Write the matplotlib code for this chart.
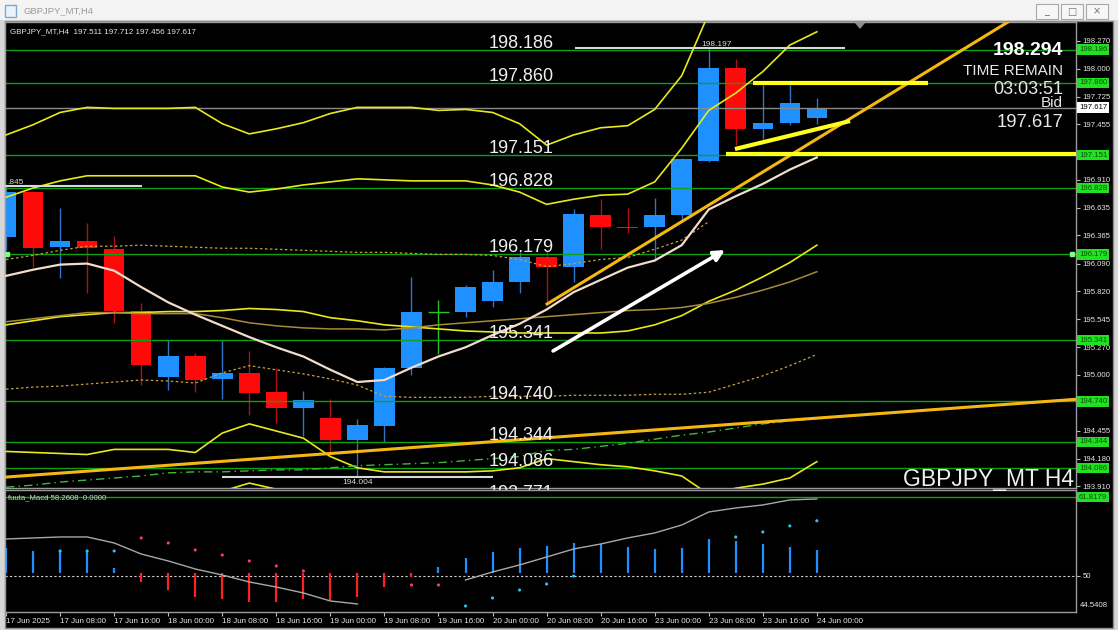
import matplotlib
matplotlib.use("Agg")
import matplotlib.pyplot as plt
from matplotlib.patches import Rectangle, Polygon
from matplotlib.transforms import blended_transform_factory
import numpy as np

plt.rcParams['font.family'] = ['Liberation Sans', 'DejaVu Sans']

# ---------------- data ----------------
tick_labels = ['17 Jun 2025', '17 Jun 08:00', '17 Jun 16:00', '18 Jun 00:00',
               '18 Jun 08:00', '18 Jun 16:00', '19 Jun 00:00', '19 Jun 08:00',
               '19 Jun 16:00', '20 Jun 00:00', '20 Jun 08:00', '20 Jun 16:00',
               '23 Jun 00:00', '23 Jun 08:00', '23 Jun 16:00', '24 Jun 00:00']

opens = [196.35, 196.79, 196.25, 196.31, 196.23, 195.63, 194.98, 195.18, 194.96, 195.02,
         194.83, 194.68, 194.58, 194.36, 194.50, 195.07, 195.62, 195.62, 195.72, 195.91,
         196.15, 196.06, 196.57, 196.45, 196.45, 196.57, 197.09, 198.01, 197.41, 197.47, 197.511]
highs = [196.845, 196.80, 196.63, 196.49, 196.36, 195.70, 195.34, 195.21, 195.34, 195.23,
         195.07, 194.84, 194.76, 194.57, 195.08, 195.96, 195.73, 195.88, 196.03, 196.20,
         196.21, 196.62, 196.72, 196.63, 196.73, 197.12, 198.197, 198.09, 197.84, 197.84, 197.712]
lows = [196.22, 196.06, 195.95, 195.80, 195.51, 194.90, 194.85, 194.83, 194.76, 194.61,
        194.53, 194.40, 194.23, 194.004, 194.34, 195.00, 195.20, 195.57, 195.66, 195.80,
        195.69, 195.91, 196.23, 196.39, 196.12, 196.52, 197.08, 197.25, 197.31, 197.45, 197.456]
closes = [196.79, 196.24, 196.31, 196.24, 195.63, 195.10, 195.18, 194.95, 195.02, 194.82,
          194.68, 194.75, 194.36, 194.51, 195.07, 195.62, 195.62, 195.86, 195.91, 196.15,
          196.06, 196.58, 196.45, 196.44, 196.57, 197.11, 198.01, 197.41, 197.47, 197.66, 197.617]

# indicator lines (price per bar)
band_outer_up = [197.35, 197.45, 197.57, 197.62, 197.61, 197.61, 197.61, 197.62, 197.46, 197.36,
                 197.41, 197.47, 197.56, 197.62, 197.62, 197.62, 197.59, 197.60, 197.57, 197.46,
                 197.25, 197.35, 197.42, 197.44, 197.60, 197.93, 198.54]
band_inner_up = [196.74, 196.83, 196.90, 196.95, 196.95, 196.95, 196.95, 196.95, 196.84, 196.79,
                 196.82, 196.86, 196.89, 196.92, 196.91, 196.90, 196.90, 196.90, 196.86, 196.79,
                 196.67, 196.72, 196.76, 196.77, 196.89, 197.22, 197.59, 197.76, 197.97, 198.23, 198.36]
mid_dotted_up = [196.13, 196.17, 196.22, 196.26, 196.26, 196.27, 196.26, 196.25, 196.24, 196.24,
                 196.23, 196.22, 196.21, 196.20, 196.20, 196.19, 196.18, 196.18, 196.17, 196.13,
                 196.06, 196.09, 196.13, 196.15, 196.23, 196.32, 196.50]
band_inner_lo = [195.49, 195.53, 195.57, 195.59, 195.61, 195.61, 195.62, 195.62, 195.63, 195.65,
                 195.64, 195.62, 195.56, 195.53, 195.49, 195.47, 195.45, 195.43, 195.42, 195.41,
                 195.41, 195.41, 195.41, 195.43, 195.49, 195.58, 195.72, 195.83, 195.96, 196.10, 196.27]
ma_slow = [195.52, 195.55, 195.58, 195.61, 195.61, 195.60, 195.60, 195.60, 195.56, 195.51,
           195.48, 195.46, 195.45, 195.45, 195.44, 195.46, 195.49, 195.51, 195.53, 195.55,
           195.57, 195.59, 195.61, 195.63, 195.64, 195.66, 195.70, 195.76, 195.83, 195.91, 196.01]
ma_fast = [195.97, 196.03, 196.08, 196.09, 196.02, 195.86, 195.71, 195.59, 195.48, 195.37,
           195.27, 195.18, 195.05, 194.93, 194.95, 195.07, 195.18, 195.27, 195.39, 195.50,
           195.64, 195.81, 195.93, 196.05, 196.12, 196.27, 196.62, 196.75, 196.87, 197.01, 197.13]
mid_dotted_lo = [194.86, 194.88, 194.89, 194.91, 194.93, 194.95, 194.94, 194.92, 195.02, 195.09,
                 195.05, 195.01, 194.96, 194.90, 194.79, 194.78, 194.78, 194.78, 194.79, 194.79,
                 194.79, 194.80, 194.80, 194.80, 194.81, 194.81, 194.83, 194.91, 194.99, 195.09, 195.20]
band_outer_lo = [194.25, 194.24, 194.23, 194.22, 194.27, 194.27, 194.27, 194.24, 194.43, 194.52,
                 194.45, 194.38, 194.20, 194.09, 194.05, 194.05, 194.05, 194.05, 194.06, 194.09,
                 194.18, 194.15, 194.12, 194.10, 194.06, 194.01, 193.83, 193.89, 193.93, 193.99, 194.15]
band_far_lo_bars = [7, 8, 9, 10, 11]
band_far_lo = [193.75, 193.86, 193.94, 193.88, 193.78]
ma_long = [193.90, 193.92, 193.95, 193.97, 193.99, 194.01, 194.04, 194.05, 194.05, 194.06,
           194.07, 194.07, 194.09, 194.11, 194.12, 194.13, 194.14, 194.16, 194.18, 194.20,
           194.26, 194.27, 194.30, 194.33, 194.37, 194.41, 194.44, 194.48, 194.52, 194.55, 194.57]

level_prices = [198.186, 197.860, 197.151, 196.828, 196.179, 195.341, 194.740, 194.344, 194.086]
level_text_prices = level_prices + [193.771]
bid_price = 197.617
axis_ticks = [198.270, 198.000, 197.725, 197.455, 197.185, 196.910, 196.635, 196.365, 196.090,
              195.820, 195.545, 195.270, 195.000, 194.730, 194.455, 194.180, 193.910]
hidden_ticks = [197.185, 194.730]   # covered by the level boxes on the price scale

trend1_bars, trend1_prices = [0.04, 38.25], [194.00, 194.735]
trend2_bars, trend2_prices = [20.02, 36.77], [195.694, 198.407]
yl_h1_bars, yl_h1_prices = [27.64, 34.11], [197.855, 197.855]
yl_h2_bars, yl_h2_prices = [26.64, 40.0], [197.16, 197.16]
yl_d_bars, yl_d_prices = [26.97, 31.23], [197.212, 197.486]
arrow_bars, arrow_prices = [20.24, 26.6], [195.234, 196.223]
hl_start = [-0.04, 21.05, 8.0]
hl_end = [5.03, 31.04, 18.0]
hl_price = [196.845, 198.197, 194.004]
hl_texts = ['.845', '198.197', '194.004']

# MACD panel
hist = [54.19, 53.74, 53.74, 53.59, 51.20, 49.10, 47.90, 46.86, 46.56, 46.11,
        46.11, 46.56, 46.41, 46.86, 48.35, 49.85, 51.35, 52.69, 53.59, 54.19,
        54.49, 54.94, 54.79, 54.34, 54.04, 54.19, 55.54, 55.24, 54.79, 54.34, 53.89]
hist_base = 50.5
signal = [55.54, 55.69, 55.84, 55.84, 54.94, 53.29, 52.25, 51.05, 50.15, 49.10,
          48.35, 47.46, 46.26, 45.81, np.nan, np.nan, np.nan, 49.40, 50.60, 51.65,
          52.84, 54.04, 54.79, 55.69, 56.44, 57.63, 59.58, 60.18, 60.63, 61.38, 61.53]
dots = [np.nan, np.nan, 53.74, 53.74, 53.74, 55.69, 54.94, 53.89, 53.14, 52.25,
        51.50, 50.75, np.nan, np.nan, np.nan, 48.65, 48.65, 45.51, 46.71, 47.90,
        48.80, 50.00, np.nan, np.nan, np.nan, np.nan, np.nan, 55.84, 56.59, 57.49, 58.26]
dots_falling = [False, False, False, False, False, True, True, True, True, True,
                True, True, False, False, False, True, True, False, False, False,
                False, False, False, False, False, False, False, False, False, False, False]
macd_level = 61.8179
macd_mid = 50

# ---------------- figure ----------------
W, H = 1118, 630
fig = plt.figure(figsize=(W / 100, H / 100), dpi=100, facecolor='#d6d6d6')


def fx(px):
    return px / W


def fy(py):
    return 1 - py / H


# window chrome
fig.patches.append(Rectangle((0, fy(20)), 1, 20 / H, transform=fig.transFigure,
                             facecolor='#f3f3f3', edgecolor='none', zorder=-6))
fig.patches.append(Rectangle((fx(5), fy(628)), fx(1113) - fx(5), 607 / H,
                             transform=fig.transFigure, facecolor='black',
                             edgecolor='#8a8a8a', lw=1, zorder=-5))
fig.patches.append(Rectangle((fx(5), fy(17)), 11 / W, 12 / H, transform=fig.transFigure,
                             facecolor='#eaf2fb', edgecolor='#7fa7d6', lw=1, zorder=-4))
fig.text(fx(23), fy(11), 'GBPJPY_MT,H4', fontsize=6.8, color='#9a9a9a', va='center')
for bx, glyph in zip([1036, 1061, 1086], ['_', '□', '×']):
    fig.patches.append(Rectangle((fx(bx), fy(19)), 22 / W, 15 / H, transform=fig.transFigure,
                                 facecolor='#f7f7f7', edgecolor='#a8a8a8', lw=0.8, zorder=-4))
    fig.text(fx(bx + 11), fy(11.5), glyph, fontsize=7, color='#707070', ha='center', va='center',
             family='DejaVu Sans')

ax = fig.add_axes([fx(5), fy(488), (1076 - 5) / W, (488 - 22) / H], facecolor='black')
ax2 = fig.add_axes([fx(5), fy(612), (1076 - 5) / W, (612 - 490) / H], facecolor='black')

XMIN, XMAX = -0.04, 39.59
for a in (ax, ax2):
    a.set_xlim(XMIN, XMAX)
    for s in a.spines.values():
        s.set_color('#9a9a9a')
        s.set_linewidth(1)
ax.set_ylim(193.892, 198.456)
ax2.set_ylim(44.61, 62.87)

x = np.arange(len(opens))
o = np.array(opens); c = np.array(closes); hi = np.array(highs); lo = np.array(lows)
BLUE, RED, GREEN = '#1e90ff', '#ff0a0a', '#1fc81f'
up = c > o
dn = c < o
flat = ~(up | dn)
body_col = np.where(up, BLUE, np.where(dn, RED, GREEN))
wick_col = np.where(up, '#2f74c8', np.where(dn, '#b01212', GREEN))

# horizontal levels
for p in level_prices:
    ax.axhline(p, color='#10a010', lw=1, zorder=2)
ax.axhline(bid_price, color='#8a8a8a', lw=1, zorder=2)

# candles
ax.vlines(x, lo, hi, colors=wick_col, lw=1, zorder=1.5)
ax.bar(x[~flat], (c - o)[~flat], bottom=o[~flat], width=0.76, color=body_col[~flat],
       zorder=1.6)
ax.hlines(o[flat], x[flat] - 0.38, x[flat] + 0.38, colors=GREEN, lw=1, zorder=1.6)

# indicators
YEL = '#e8e81a'
ax.plot(np.arange(len(band_outer_up)), band_outer_up, color=YEL, lw=1.2, zorder=3)
ax.plot(np.arange(len(band_inner_up)), band_inner_up, color=YEL, lw=1.2, zorder=3)
ax.plot(np.arange(len(mid_dotted_up)), mid_dotted_up, color='#c8a040', lw=0.9,
        ls=(0, (2, 2)), zorder=3)
ax.plot(np.arange(len(band_inner_lo)), band_inner_lo, color=YEL, lw=1.2, zorder=3)
ax.plot(np.arange(len(ma_slow)), ma_slow, color='#a88a38', lw=1.1, zorder=3)
ax.plot(np.arange(len(ma_fast)), ma_fast, color='#f2dccb', lw=1.6, zorder=3)
ax.plot(np.arange(len(mid_dotted_lo)), mid_dotted_lo, color='#c8a040', lw=0.9,
        ls=(0, (2, 2)), zorder=3)
ax.plot(np.arange(len(band_outer_lo)), band_outer_lo, color=YEL, lw=1.2, zorder=3)
ax.plot(band_far_lo_bars, band_far_lo, color=YEL, lw=1.2, zorder=3)
ax.plot(np.arange(len(ma_long)), ma_long, color='#3cb83c', lw=1, ls=(0, (6, 3, 1, 3)), zorder=3)

# trend lines
ORG = '#f5b810'
ax.axline((trend1_bars[0], trend1_prices[0]), (trend1_bars[1], trend1_prices[1]),
          color=ORG, lw=2.2, zorder=4)
slope2 = (trend2_prices[1] - trend2_prices[0]) / (trend2_bars[1] - trend2_bars[0])
ax.plot([trend2_bars[0], XMAX + 5],
        [trend2_prices[0], trend2_prices[0] + slope2 * (XMAX + 5 - trend2_bars[0])],
        color=ORG, lw=2.2, zorder=4)
for bb, pp in ((yl_h1_bars, yl_h1_prices), (yl_h2_bars, yl_h2_prices), (yl_d_bars, yl_d_prices)):
    ax.plot(bb, pp, color='#ffff1a', lw=3, zorder=4, solid_capstyle='butt')

# high / low markers
ax.hlines(hl_price, hl_start, hl_end, colors='#d8d8d8', lw=1.5, zorder=4)
ax.text(0.05, hl_price[0] + 0.025, hl_texts[0], color='#d8d8d8', fontsize=6,
        ha='left', va='baseline', zorder=6)
ax.text(26.3, hl_price[1] + 0.025, hl_texts[1], color='#d8d8d8', fontsize=6,
        ha='center', va='baseline', zorder=6)
ax.text(13.0, hl_price[2] - 0.025, hl_texts[2], color='#d8d8d8', fontsize=6,
        ha='center', va='top', zorder=6)

# arrow
ax.annotate('', xy=(arrow_bars[1], arrow_prices[1]), xytext=(arrow_bars[0], arrow_prices[0]),
            arrowprops=dict(arrowstyle='-|>', color='white', lw=2.6, mutation_scale=16,
                            shrinkA=0, shrinkB=0), zorder=5)

# level texts
for p in level_text_prices:
    ax.text(17.87, p + 0.02, f'{p:.3f}', color='#f0f0f0', fontsize=13, ha='left',
            va='baseline', zorder=6)

# small markers on 196.179 line
ax.plot([0.05, 39.45], [level_prices[4], level_prices[4]], 's', ms=2.5, color='#7dff7d', zorder=5)

# right price axis
ax.set_xticks([])
ax.yaxis.tick_right()
ax.set_yticks(axis_ticks)
ax.set_yticklabels(['' if t in hidden_ticks else f'{t:.3f}' for t in axis_ticks])
ax.tick_params(axis='y', direction='out', length=3, width=0.8, colors='#bdbdbd',
               labelcolor='#e6e6e6', labelsize=5.6, pad=1.5)

trans = blended_transform_factory(ax.transAxes, ax.transData)
xoff = 1.0 + 3 / 1071
for p in level_prices:
    ax.text(xoff, p, f'{p:.3f}', transform=trans, ha='left', va='center', fontsize=5.6,
            color='#0b4f0b', clip_on=False, zorder=10,
            bbox=dict(boxstyle='square,pad=0.22', fc='#22e022', ec='none'))
ax.text(xoff, bid_price, f'{bid_price:.3f}', transform=trans, ha='left', va='center',
        fontsize=5.6, color='black', clip_on=False, zorder=10,
        bbox=dict(boxstyle='square,pad=0.22', fc='white', ec='none'))

# header texts
ax.text(0.005, 0.978, 'GBPJPY_MT,H4  197.511 197.712 197.456 197.617', transform=ax.transAxes,
        color='#e6e6e6', fontsize=5.8, ha='left', va='center', zorder=6)
fig.text(fx(1063), fy(55), '198.294', fontsize=14, fontweight='bold', color='white',
         ha='right', va='baseline')
fig.text(fx(1063), fy(75), 'TIME REMAIN', fontsize=11, color='#e8e8e8', ha='right', va='baseline')
fig.text(fx(1063), fy(94), '03:03:51', fontsize=13, color='#e8e8e8', ha='right', va='baseline')
fig.text(fx(1063), fy(107), 'Bid', fontsize=11, color='#e8e8e8', ha='right', va='baseline')
fig.text(fx(1063), fy(127), '197.617', fontsize=13.3, color='#e8e8e8', ha='right', va='baseline')
fig.text(fx(1074), fy(486), 'GBPJPY_MT H4', fontsize=16.5, color='#f0f0f0', ha='right',
         va='baseline')

# shift marker
fig.patches.append(Polygon([[fx(855), fy(23)], [fx(865), fy(23)], [fx(860), fy(29)]],
                           closed=True, transform=fig.transFigure, facecolor='#8c8c8c',
                           edgecolor='none', zorder=5))

# ---------------- MACD panel ----------------
hv = np.array(hist)
ax2.axhline(macd_level, color='#10a010', lw=1, zorder=1)
ax2.axhline(macd_mid, color='#d0d0d0', lw=0.8, ls=(0, (2, 2)), zorder=1)
ax2.vlines(x, hist_base, hv, colors=np.where(hv >= hist_base, BLUE, '#ff2020'), lw=1.6, zorder=2)
ax2.plot(x, signal, color='#a8a8a8', lw=1, zorder=3)
dv = np.array(dots)
dcol = np.where(np.array(dots_falling), '#ff3a7a', '#33c4e8')
ax2.scatter(x, dv, c=dcol, s=5, zorder=4, linewidths=0)
ax2.text(0.003, 0.94, 'fuuta_Macd 58.2608  0.0000', transform=ax2.transAxes, color='#c8d8c8',
         fontsize=5.6, ha='left', va='center', zorder=6)

ax2.yaxis.tick_right()
ax2.set_yticks([macd_mid])
ax2.set_yticklabels(['50'])
ax2.tick_params(axis='y', direction='out', length=3, width=0.8, colors='#bdbdbd',
                labelcolor='#e6e6e6', labelsize=5.6, pad=1.5)
trans2 = blended_transform_factory(ax2.transAxes, ax2.transData)
ax2.text(xoff, macd_level, f'{macd_level:.4f}', transform=trans2, ha='left', va='center',
         fontsize=5.6, color='#0b4f0b', clip_on=False, zorder=10,
         bbox=dict(boxstyle='square,pad=0.22', fc='#22e022', ec='none'))
ax2.text(1.0 + 4 / 1071, 0.057, '44.5408', transform=ax2.transAxes, ha='left', va='center',
         fontsize=5.6, color='#e6e6e6', clip_on=False)

ax2.set_xticks(np.arange(0, 31, 2))
ax2.set_xticklabels(tick_labels, ha='left')
ax2.tick_params(axis='x', direction='out', length=3, width=0.8, colors='#bdbdbd',
                labelcolor='#e6e6e6', labelsize=5.8, pad=1)

fig.savefig('out.png', dpi=100, facecolor=fig.get_facecolor())
